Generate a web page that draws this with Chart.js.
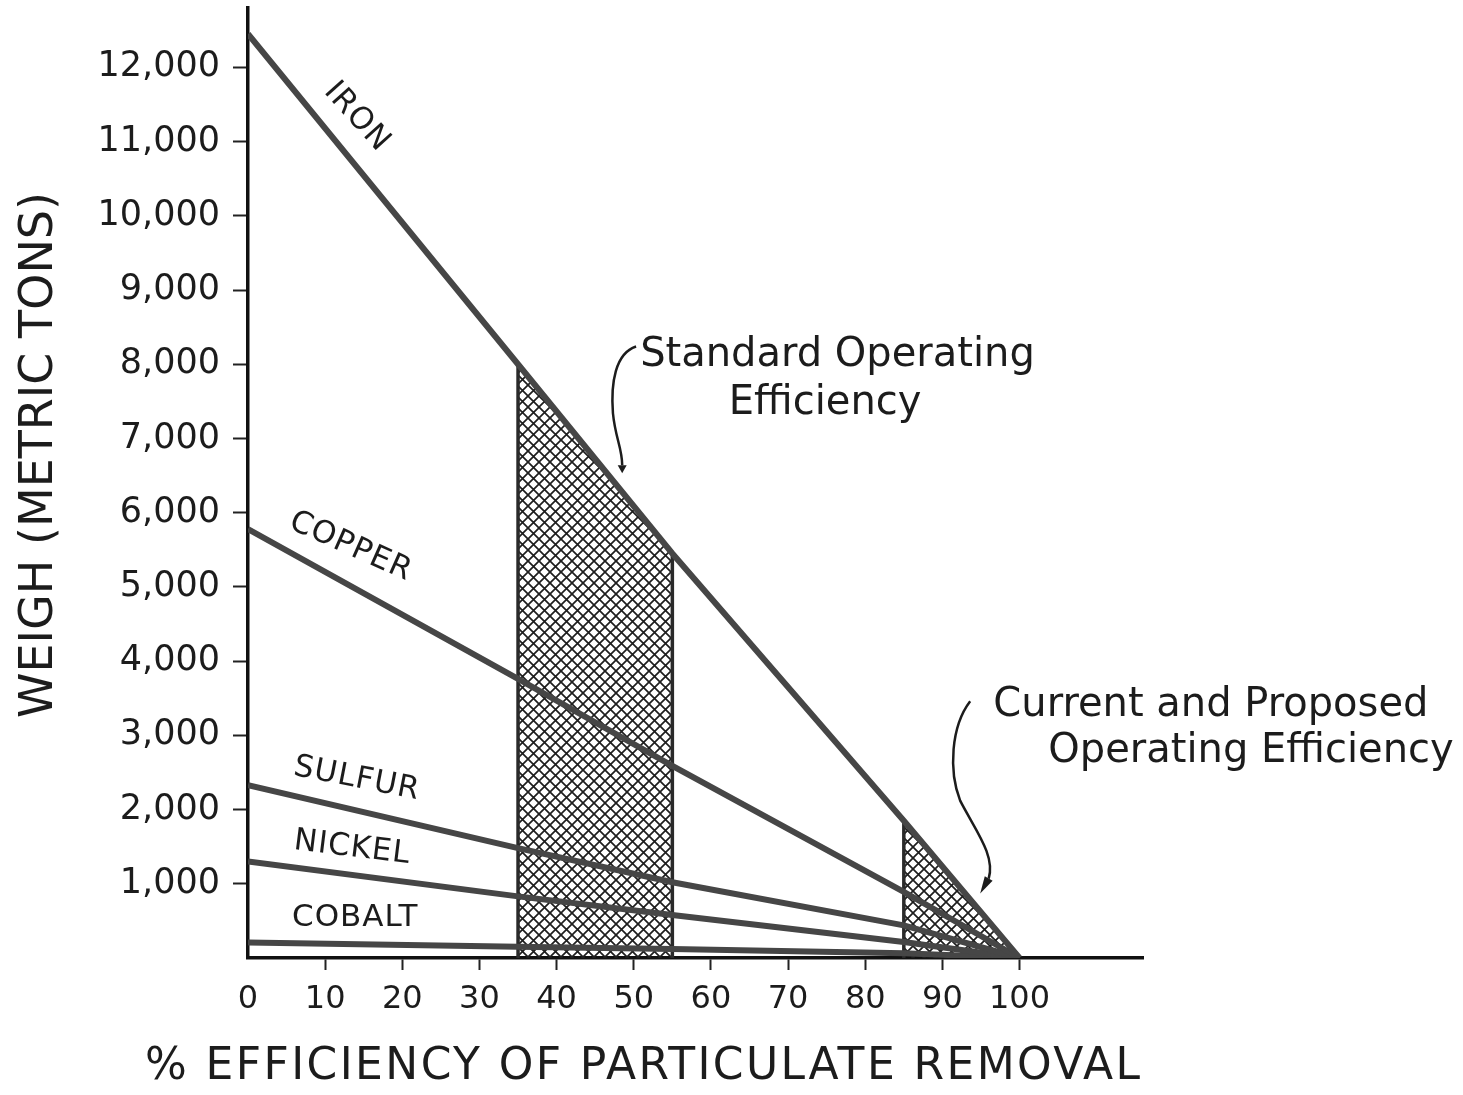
<!DOCTYPE html>
<html>
<head>
<meta charset="utf-8">
<script src="https://cdn.jsdelivr.net/npm/chart.js@4/dist/chart.umd.min.js"></script>
<style>
  html, body { margin: 0; padding: 0; background: #fff; }
  #caja { width: 1463px; height: 1095px; }
</style>
</head>
<body>
<div id="caja"><canvas id="grafico"></canvas></div>
<script>
// % efficiency where the curves were read
var eficiencia = [0, 35, 55, 85, 100];
// weight in metric tons at each efficiency
var hierro  = [12450, 8000, 5450, 1850, 0];
var cobre   = [5780, 3760, 2590, 890, 0];
var azufre  = [2330, 1480, 1020, 440, 0];
var niquel  = [1300, 830, 580, 215, 0];
var cobalto = [210, 150, 120, 65, 0];

// shaded efficiency bands
var bandaEstandar = [35, 55];
var bandaActual = [85, 100];

var ticksX = [0, 10, 20, 30, 40, 50, 60, 70, 80, 90, 100];
var ticksY = [1000, 2000, 3000, 4000, 5000, 6000, 7000, 8000, 9000, 10000, 11000, 12000];

var fuente = "'DejaVu Sans', 'Liberation Sans', sans-serif";
var tinta = '#1c1c1c';
var trazo = '#464646';

function puntos(valores) {
  return eficiencia.map(function (x, i) { return { x: x, y: valores[i] }; });
}
function hierroEn(x) {
  return hierro[eficiencia.indexOf(x)];
}
function banda(b) {
  return b.map(function (x) { return { x: x, y: hierroEn(x) }; });
}
function borde(x) {
  return [{ x: x, y: 0 }, { x: x, y: hierroEn(x) }];
}

// cross hatch for the shaded bands
function trama() {
  var c = document.createElement('canvas');
  c.width = 11; c.height = 11;
  var g = c.getContext('2d');
  g.strokeStyle = '#1e1e1e';
  g.lineWidth = 1.7;
  g.beginPath();
  g.moveTo(-1, -1); g.lineTo(12, 12);
  g.moveTo(12, -1); g.lineTo(-1, 12);
  g.stroke();
  return g.createPattern(c, 'repeat');
}
var patron = trama();

function linea(valores) {
  return {
    data: puntos(valores), showLine: true, borderColor: trazo, borderWidth: 6,
    pointRadius: 0, fill: false, order: 1
  };
}
function relleno(b) {
  return {
    data: banda(b), showLine: true, borderWidth: 0, borderColor: 'rgba(0,0,0,0)',
    backgroundColor: patron, pointRadius: 0, fill: 'origin', order: 5
  };
}
function lado(x) {
  return {
    data: borde(x), showLine: true, borderColor: '#2a2a2a', borderWidth: 3.5,
    pointRadius: 0, fill: false, order: 2
  };
}

// line labels, placed in data units
var etiquetas = [
  { texto: 'IRON',   x: 14.1, y: 11330, giro: 48 },
  { texto: 'COPPER', x: 13.3, y: 5540,  giro: 24 },
  { texto: 'SULFUR', x: 14.1, y: 2410,  giro: 11 },
  { texto: 'NICKEL', x: 13.5, y: 1480,  giro: 7 },
  { texto: 'COBALT', x: 13.9, y: 540,   giro: 0 }
];
var notas = [
  { texto: 'Standard Operating',   x: 76.4,  y: 8120 },
  { texto: 'Efficiency',           x: 74.8,  y: 7470 },
  { texto: 'Current and Proposed', x: 124.8, y: 3400 },
  { texto: 'Operating Efficiency', x: 130.0, y: 2780 }
];
var flechas = [
  [[50.3, 8240], [47.6, 8150], [47.0, 7745], [47.3, 7340], [47.6, 7010], [48.5, 6870], [48.5, 6640]],
  [[93.6, 3460], [91.1, 3120], [90.8, 2520], [92.3, 2120], [94.3, 1715], [96.9, 1380], [96.0, 1070]]
];
var puntas = [[48.5, 6530], [94.9, 870]];

var dibujos = {
  id: 'dibujos',
  afterDraw: function (chart) {
    var ctx = chart.ctx;
    var sx = chart.scales.x, sy = chart.scales.y;
    function px(v) { return sx.getPixelForValue(v); }
    function py(v) { return sy.getPixelForValue(v); }
    ctx.save();
    ctx.fillStyle = tinta;
    ctx.textAlign = 'center';
    ctx.textBaseline = 'middle';

    ctx.font = '31px ' + fuente;
    if ('letterSpacing' in ctx) ctx.letterSpacing = '1px';
    etiquetas.forEach(function (e) {
      ctx.save();
      ctx.translate(px(e.x), py(e.y));
      ctx.rotate(e.giro * Math.PI / 180);
      ctx.fillText(e.texto, 0, 0);
      ctx.restore();
    });
    if ('letterSpacing' in ctx) ctx.letterSpacing = '0px';

    ctx.font = '40px ' + fuente;
    notas.forEach(function (n) {
      ctx.fillText(n.texto, px(n.x), py(n.y));
    });

    // arrows
    ctx.strokeStyle = tinta;
    ctx.lineWidth = 2.5;
    flechas.forEach(function (f, k) {
      ctx.beginPath();
      ctx.moveTo(px(f[0][0]), py(f[0][1]));
      ctx.bezierCurveTo(px(f[1][0]), py(f[1][1]), px(f[2][0]), py(f[2][1]), px(f[3][0]), py(f[3][1]));
      ctx.bezierCurveTo(px(f[4][0]), py(f[4][1]), px(f[5][0]), py(f[5][1]), px(f[6][0]), py(f[6][1]));
      ctx.stroke();
      var ax = px(f[6][0]), ay = py(f[6][1]);
      var tx = px(puntas[k][0]), ty = py(puntas[k][1]);
      var ang = Math.atan2(ty - ay, tx - ax);
      ctx.beginPath();
      ctx.moveTo(tx, ty);
      ctx.lineTo(ax + Math.cos(ang + Math.PI / 2) * 4.5, ay + Math.sin(ang + Math.PI / 2) * 4.5);
      ctx.lineTo(ax + Math.cos(ang - Math.PI / 2) * 4.5, ay + Math.sin(ang - Math.PI / 2) * 4.5);
      ctx.closePath();
      ctx.fill();
    });

    // axis titles
    ctx.font = '46px ' + fuente;
    ctx.save();
    ctx.translate(40, 455);
    ctx.rotate(-Math.PI / 2);
    ctx.fillText('WEIGH (METRIC TONS)', 0, 0);
    ctx.restore();

    var titulo = '% EFFICIENCY OF PARTICULATE REMOVAL';
    ctx.font = '44px ' + fuente;
    var ancho = ctx.measureText(titulo).width;
    if ('letterSpacing' in ctx) {
      ctx.letterSpacing = ((995 - ancho) / (titulo.length - 1)) + 'px';
    }
    ctx.textAlign = 'left';
    ctx.fillText(titulo, 145, 1068);
    ctx.restore();
  }
};

var ctx2 = document.getElementById('grafico').getContext('2d');
var miGrafico = new Chart(ctx2, {
  type: 'scatter',
  data: {
    datasets: [
      relleno(bandaEstandar),
      relleno(bandaActual),
      lado(bandaEstandar[0]), lado(bandaEstandar[1]),
      lado(bandaActual[0]),
      linea(hierro),
      linea(cobre),
      linea(azufre),
      linea(niquel),
      linea(cobalto)
    ]
  },
  options: {
    responsive: true,
    maintainAspectRatio: false,
    animation: false,
    layout: { padding: { top: 8, right: 320, bottom: 0, left: 0 } },
    plugins: { legend: { display: false }, tooltip: { enabled: false } },
    scales: {
      x: {
        type: 'linear', min: 0, max: 116,
        afterBuildTicks: function (s) {
          s.ticks = ticksX.map(function (v) { return { value: v }; });
        },
        afterFit: function (s) { s.height = 137; s.paddingLeft = 0; s.paddingRight = 0; },
        ticks: {
          autoSkip: false, maxRotation: 0,
          padding: 10, color: tinta, font: { family: fuente, size: 32 }
        },
        grid: {
          drawOnChartArea: false, tickLength: 12, tickWidth: 2,
          tickColor: function (c) {
            return (c.tick && c.tick.value > 0) ? '#222' : 'rgba(0,0,0,0)';
          }
        },
        border: { color: '#111', width: 3.5 }
      },
      y: {
        type: 'linear', min: 0, max: 12800,
        afterBuildTicks: function (s) {
          s.ticks = [0].concat(ticksY).map(function (v) { return { value: v }; });
        },
        afterFit: function (s) { s.width = 248; s.paddingTop = 0; s.paddingBottom = 0; },
        ticks: {
          autoSkip: false, padding: 13, color: tinta,
          font: { family: fuente, size: 35 },
          callback: function (v) { return v === 0 ? '' : v.toLocaleString('en-US'); }
        },
        grid: {
          drawOnChartArea: false, tickLength: 15, tickWidth: 2,
          tickColor: function (c) {
            return (c.tick && c.tick.value > 0) ? '#222' : 'rgba(0,0,0,0)';
          }
        },
        border: { color: '#111', width: 3.5 }
      }
    }
  },
  plugins: [dibujos]
});
</script>
</body>
</html>
